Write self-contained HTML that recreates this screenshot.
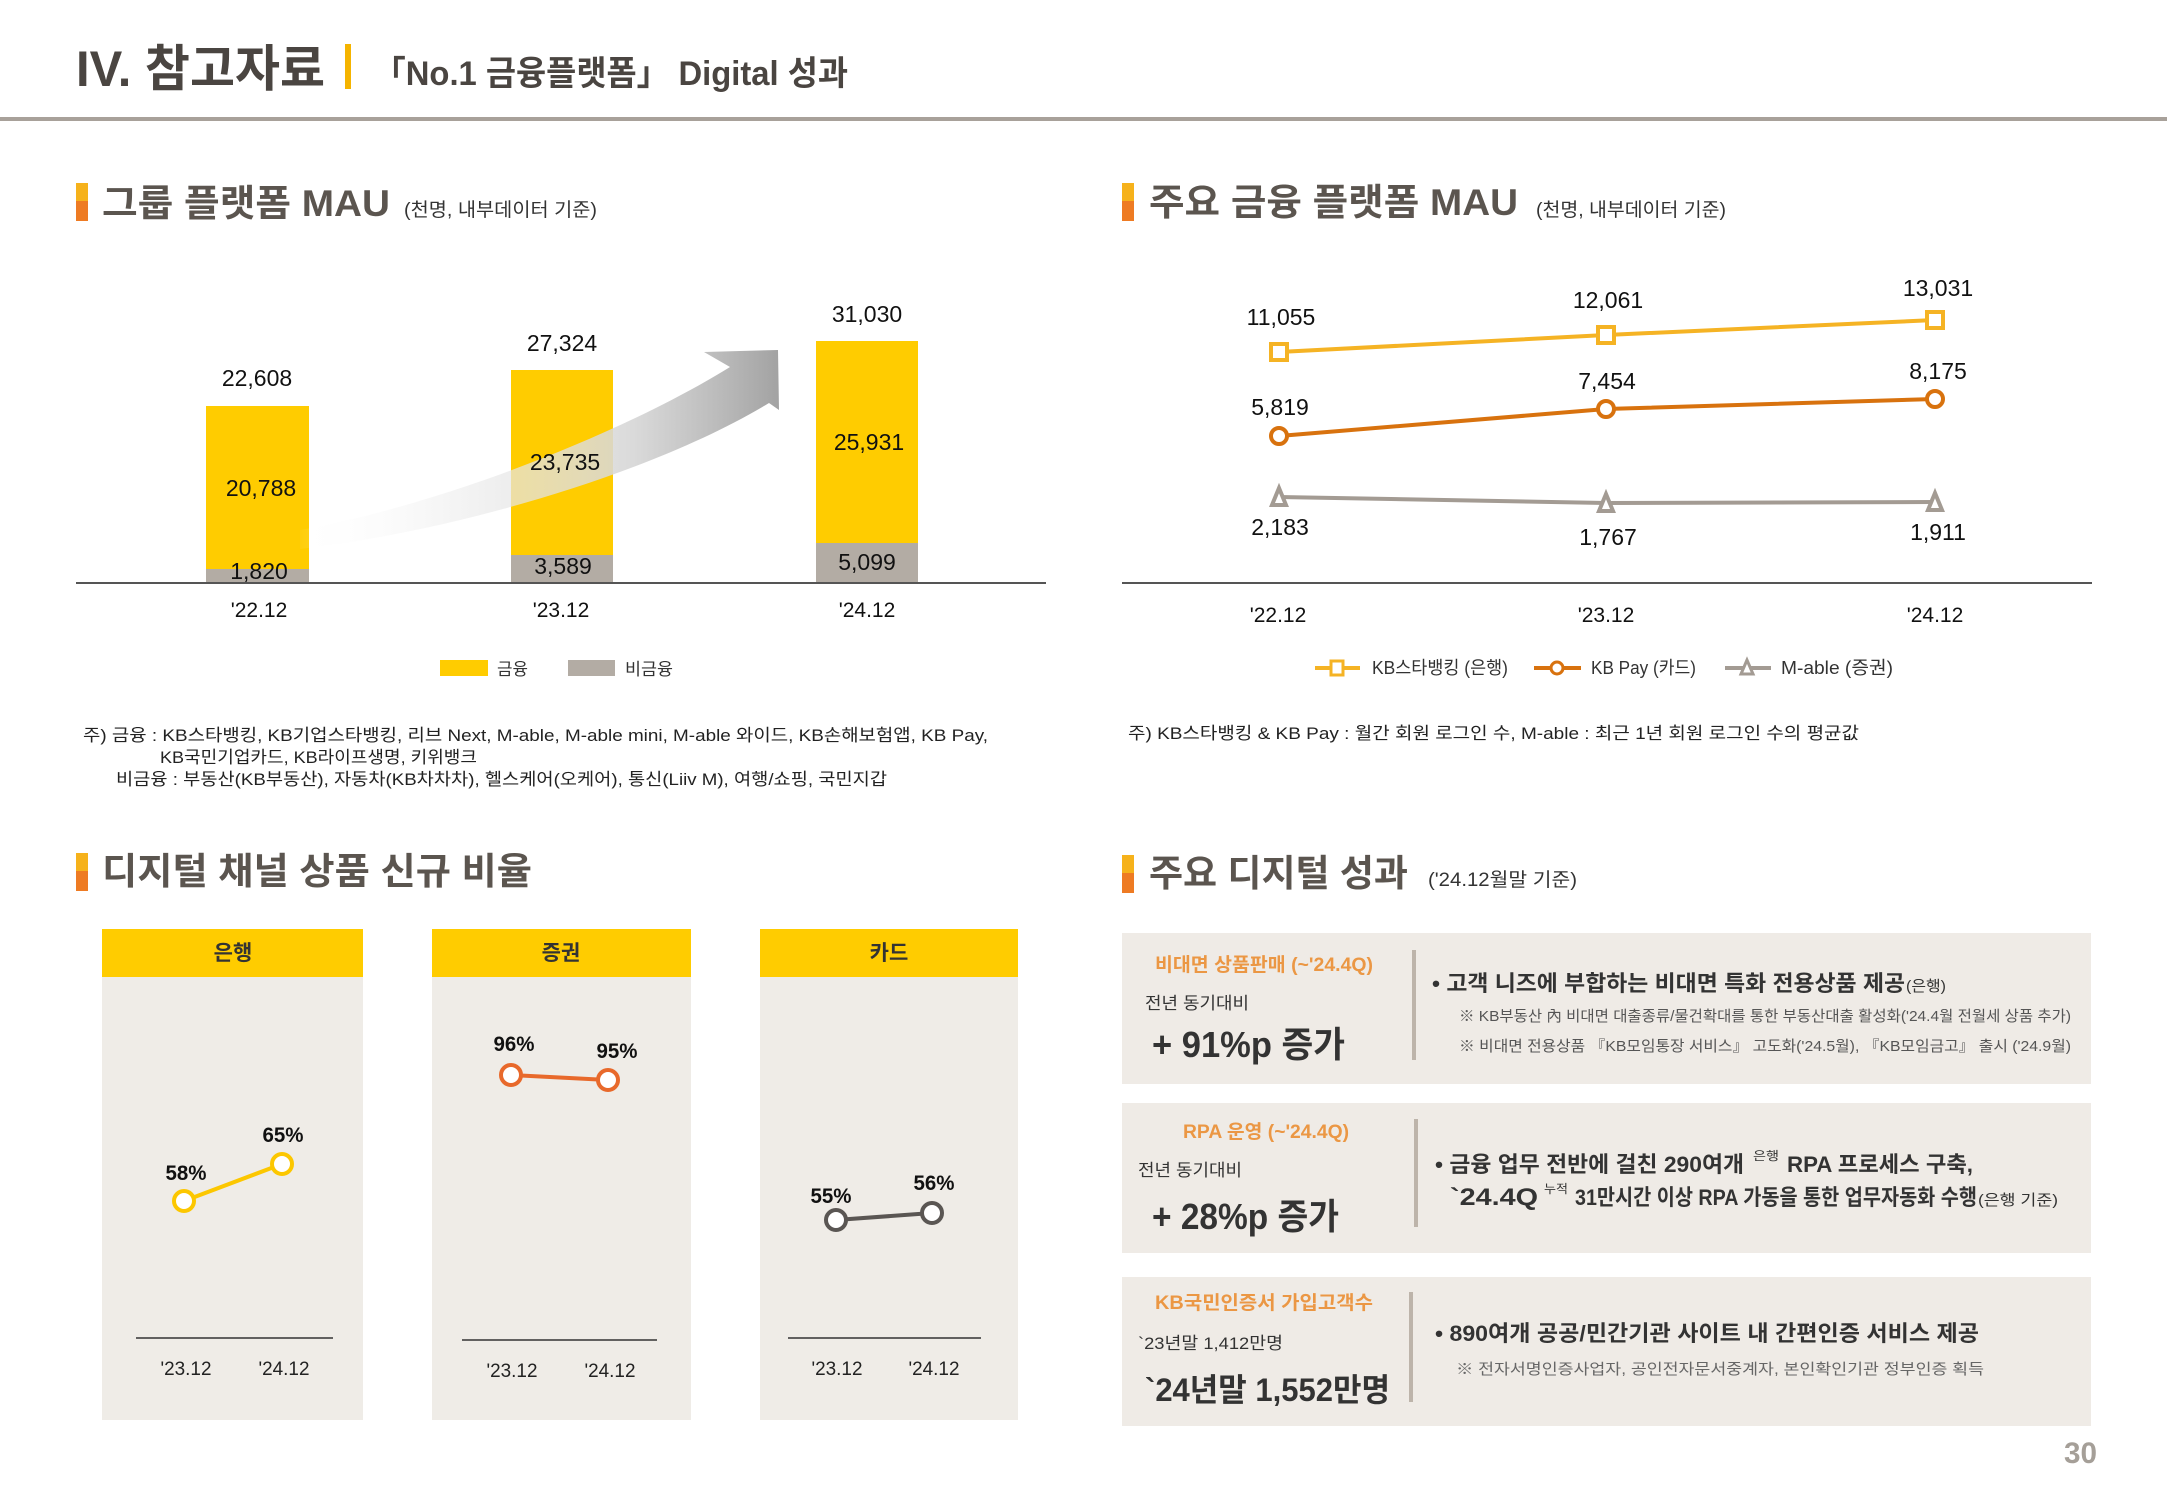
<!DOCTYPE html>
<html><head><meta charset="utf-8"><style>
html,body{margin:0;padding:0;background:#fff;}
svg{display:block;}
text{font-family:"Liberation Sans","Noto Sans CJK KR",sans-serif;}
.b{font-weight:bold;}
</style></head><body>
<svg width="2167" height="1500" viewBox="0 0 2167 1500" xmlns="http://www.w3.org/2000/svg">
<defs>
<linearGradient id="arr" x1="290" y1="0" x2="780" y2="0" gradientUnits="userSpaceOnUse">
<stop offset="0" stop-color="#ffffff" stop-opacity="0"/>
<stop offset="0.3" stop-color="#f0f0f0" stop-opacity="0.6"/>
<stop offset="0.7" stop-color="#d6d6d6" stop-opacity="0.9"/>
<stop offset="1" stop-color="#a2a2a2" stop-opacity="1"/>
</linearGradient>
</defs>
<rect x="0" y="0" width="2167" height="1500" fill="#ffffff"/>

<!-- Header -->
<text x="76" y="86" font-size="50" class="b" fill="#4a4541" textLength="249" lengthAdjust="spacingAndGlyphs">IV. 참고자료</text>
<rect x="345" y="44" width="6" height="45" fill="#f5b400"/>
<text x="373" y="85" font-size="34" class="b" fill="#4a4541" textLength="475" lengthAdjust="spacingAndGlyphs">「No.1 금융플랫폼」 Digital 성과</text>
<rect x="0" y="117" width="2167" height="4" fill="#a8a19a"/>

<!-- Section 1 title -->
<rect x="76" y="183" width="12" height="18" fill="#f6b21b"/>
<rect x="76" y="201" width="12" height="20" fill="#ee7b23"/>
<text x="102" y="216" font-size="37" class="b" fill="#5b554f" textLength="288" lengthAdjust="spacingAndGlyphs">그룹 플랫폼 MAU</text>
<text x="404" y="216" font-size="19" fill="#333" textLength="193" lengthAdjust="spacingAndGlyphs">(천명, 내부데이터 기준)</text>

<!-- Chart 1 bars -->
<rect x="206" y="406" width="103" height="177" fill="#ffcc00"/>
<rect x="206" y="569" width="103" height="14" fill="#b3aca4"/>
<rect x="511" y="370" width="102" height="213" fill="#ffcc00"/>
<rect x="511" y="555" width="102" height="28" fill="#b3aca4"/>
<rect x="816" y="341" width="102" height="242" fill="#ffcc00"/>
<rect x="816" y="543" width="102" height="40" fill="#b3aca4"/>

<!-- arrow -->
<path d="M 300,530 C 440,505 620,435 730,367 L 704,352 L 778,350 L 779,410 L 769,403 C 650,475 450,532 300,549 Z" fill="url(#arr)"/>

<line x1="76" y1="583" x2="1046" y2="583" stroke="#555" stroke-width="2"/>

<g font-size="23" fill="#111" text-anchor="middle">
<text x="257" y="386">22,608</text>
<text x="562" y="351">27,324</text>
<text x="867" y="322">31,030</text>
<text x="261" y="496">20,788</text>
<text x="565" y="470">23,735</text>
<text x="869" y="450">25,931</text>
<text x="259" y="579">1,820</text>
<text x="563" y="574">3,589</text>
<text x="867" y="570">5,099</text>
</g>
<g font-size="21" fill="#111" text-anchor="middle">
<text x="259" y="617">'22.12</text>
<text x="561" y="617">'23.12</text>
<text x="867" y="617">'24.12</text>
</g>
<rect x="440" y="660" width="48" height="16" fill="#ffcc00"/>
<text x="497" y="675" font-size="17" fill="#333" textLength="31" lengthAdjust="spacingAndGlyphs">금융</text>
<rect x="568" y="660" width="47" height="16" fill="#b3aca4"/>
<text x="625" y="675" font-size="17" fill="#333" textLength="48" lengthAdjust="spacingAndGlyphs">비금융</text>

<g font-size="17" fill="#222">
<text x="83" y="741" textLength="905" lengthAdjust="spacingAndGlyphs">주) 금융 : KB스타뱅킹, KB기업스타뱅킹, 리브 Next, M-able, M-able mini, M-able 와이드, KB손해보험앱, KB Pay,</text>
<text x="160" y="763" textLength="317" lengthAdjust="spacingAndGlyphs">KB국민기업카드, KB라이프생명, 키위뱅크</text>
<text x="116" y="785" textLength="771" lengthAdjust="spacingAndGlyphs">비금융 : 부동산(KB부동산), 자동차(KB차차차), 헬스케어(오케어), 통신(Liiv M), 여행/쇼핑, 국민지갑</text>
</g>

<!-- Section 2 title -->
<rect x="1122" y="183" width="12" height="18" fill="#f6b21b"/>
<rect x="1122" y="201" width="12" height="20" fill="#ee7b23"/>
<text x="1149" y="215" font-size="37" class="b" fill="#5b554f" textLength="369" lengthAdjust="spacingAndGlyphs">주요 금융 플랫폼 MAU</text>
<text x="1536" y="216" font-size="19" fill="#333" textLength="190" lengthAdjust="spacingAndGlyphs">(천명, 내부데이터 기준)</text>

<!-- Chart 2 -->
<polyline points="1279,352 1606,335 1935,320" fill="none" stroke="#f5b324" stroke-width="4"/>
<polyline points="1279,436 1606,409 1935,399" fill="none" stroke="#d8720e" stroke-width="4"/>
<polyline points="1279,497 1606,503 1935,502" fill="none" stroke="#a39b93" stroke-width="4"/>
<g fill="#fff" stroke="#f5b324" stroke-width="4">
<rect x="1271" y="344" width="16" height="16"/>
<rect x="1598" y="327" width="16" height="16"/>
<rect x="1927" y="312" width="16" height="16"/>
</g>
<g fill="#fff" stroke="#d8720e" stroke-width="4">
<circle cx="1279" cy="436" r="8"/>
<circle cx="1606" cy="409" r="8"/>
<circle cx="1935" cy="399" r="8"/>
</g>
<g fill="#fff" stroke="#a39b93" stroke-width="4" stroke-linejoin="miter">
<polygon points="1279,488 1272,505 1286,505"/>
<polygon points="1606,494 1599,511 1613,511"/>
<polygon points="1935,493 1928,510 1942,510"/>
</g>
<g font-size="23" fill="#111" text-anchor="middle">
<text x="1281" y="325">11,055</text>
<text x="1608" y="308">12,061</text>
<text x="1938" y="296">13,031</text>
<text x="1280" y="415">5,819</text>
<text x="1607" y="389">7,454</text>
<text x="1938" y="379">8,175</text>
<text x="1280" y="535">2,183</text>
<text x="1608" y="545">1,767</text>
<text x="1938" y="540">1,911</text>
</g>
<line x1="1122" y1="583" x2="2092" y2="583" stroke="#555" stroke-width="2"/>
<g font-size="21" fill="#111" text-anchor="middle">
<text x="1278" y="622">'22.12</text>
<text x="1606" y="622">'23.12</text>
<text x="1935" y="622">'24.12</text>
</g>
<!-- legend 2 -->
<line x1="1315" y1="668" x2="1360" y2="668" stroke="#f5b324" stroke-width="4"/>
<rect x="1331" y="661" width="12" height="14" fill="#fff" stroke="#f5b324" stroke-width="3"/>
<text x="1372" y="674" font-size="18" fill="#333" textLength="136" lengthAdjust="spacingAndGlyphs">KB스타뱅킹 (은행)</text>
<line x1="1534" y1="668" x2="1581" y2="668" stroke="#d8720e" stroke-width="4"/>
<circle cx="1557" cy="668" r="6" fill="#fff" stroke="#d8720e" stroke-width="3"/>
<text x="1591" y="674" font-size="18" fill="#333" textLength="105" lengthAdjust="spacingAndGlyphs">KB Pay (카드)</text>
<line x1="1725" y1="668" x2="1771" y2="668" stroke="#a39b93" stroke-width="4"/>
<polygon points="1747,660 1741,674 1753,674" fill="#fff" stroke="#a39b93" stroke-width="3"/>
<text x="1781" y="674" font-size="18" fill="#333" textLength="112" lengthAdjust="spacingAndGlyphs">M-able (증권)</text>

<text x="1128" y="739" font-size="17" fill="#222" textLength="731" lengthAdjust="spacingAndGlyphs">주) KB스타뱅킹 &amp; KB Pay : 월간 회원 로그인 수, M-able : 최근 1년 회원 로그인 수의 평균값</text>

<!-- Section 3 title -->
<rect x="76" y="853" width="12" height="18" fill="#f6b21b"/>
<rect x="76" y="871" width="12" height="20" fill="#ee7b23"/>
<text x="102" y="884" font-size="37" class="b" fill="#5b554f" textLength="430" lengthAdjust="spacingAndGlyphs">디지털 채널 상품 신규 비율</text>

<!-- panels -->
<rect x="102" y="929" width="261" height="491" fill="#efece7"/>
<rect x="102" y="929" width="261" height="48" fill="#ffcc00"/>
<rect x="432" y="929" width="259" height="491" fill="#efece7"/>
<rect x="432" y="929" width="259" height="48" fill="#ffcc00"/>
<rect x="760" y="929" width="258" height="491" fill="#efece7"/>
<rect x="760" y="929" width="258" height="48" fill="#ffcc00"/>
<g font-size="21" class="b" fill="#333" text-anchor="middle">
<text x="233" y="960">은행</text>
<text x="561" y="960">증권</text>
<text x="889" y="960">카드</text>
</g>
<line x1="184" y1="1201" x2="282" y2="1164" stroke="#fcc700" stroke-width="4"/>
<circle cx="184" cy="1201" r="10" fill="#fff" stroke="#fcc700" stroke-width="4"/>
<circle cx="282" cy="1164" r="10" fill="#fff" stroke="#fcc700" stroke-width="4"/>
<line x1="511" y1="1075" x2="608" y2="1080" stroke="#e8692b" stroke-width="4"/>
<circle cx="511" cy="1075" r="10" fill="#fff" stroke="#e8692b" stroke-width="4"/>
<circle cx="608" cy="1080" r="10" fill="#fff" stroke="#e8692b" stroke-width="4"/>
<line x1="836" y1="1220" x2="932" y2="1213" stroke="#5a5653" stroke-width="4"/>
<circle cx="836" cy="1220" r="10" fill="#fff" stroke="#5a5653" stroke-width="4"/>
<circle cx="932" cy="1213" r="10" fill="#fff" stroke="#5a5653" stroke-width="4"/>
<g font-size="21" class="b" fill="#111" text-anchor="middle">
<text x="186" y="1180" textLength="41" lengthAdjust="spacingAndGlyphs">58%</text>
<text x="283" y="1142" textLength="41" lengthAdjust="spacingAndGlyphs">65%</text>
<text x="514" y="1051" textLength="41" lengthAdjust="spacingAndGlyphs">96%</text>
<text x="617" y="1058" textLength="41" lengthAdjust="spacingAndGlyphs">95%</text>
<text x="831" y="1203" textLength="41" lengthAdjust="spacingAndGlyphs">55%</text>
<text x="934" y="1190" textLength="41" lengthAdjust="spacingAndGlyphs">56%</text>
</g>
<line x1="136" y1="1338" x2="333" y2="1338" stroke="#333" stroke-width="1.5"/>
<line x1="462" y1="1340" x2="657" y2="1340" stroke="#333" stroke-width="1.5"/>
<line x1="788" y1="1338" x2="981" y2="1338" stroke="#333" stroke-width="1.5"/>
<g font-size="19" fill="#222" text-anchor="middle">
<text x="186" y="1375" textLength="51" lengthAdjust="spacingAndGlyphs">'23.12</text>
<text x="284" y="1375" textLength="51" lengthAdjust="spacingAndGlyphs">'24.12</text>
<text x="512" y="1377" textLength="51" lengthAdjust="spacingAndGlyphs">'23.12</text>
<text x="610" y="1377" textLength="51" lengthAdjust="spacingAndGlyphs">'24.12</text>
<text x="837" y="1375" textLength="51" lengthAdjust="spacingAndGlyphs">'23.12</text>
<text x="934" y="1375" textLength="51" lengthAdjust="spacingAndGlyphs">'24.12</text>
</g>

<!-- Section 4 title -->
<rect x="1122" y="855" width="12" height="18" fill="#f6b21b"/>
<rect x="1122" y="873" width="12" height="20" fill="#ee7b23"/>
<text x="1149" y="886" font-size="37" class="b" fill="#5b554f" textLength="259" lengthAdjust="spacingAndGlyphs">주요 디지털 성과</text>
<text x="1428" y="886" font-size="19" fill="#333" textLength="149" lengthAdjust="spacingAndGlyphs">('24.12월말 기준)</text>

<!-- Box 1 -->
<rect x="1122" y="933" width="969" height="151" fill="#efebe6"/>
<text x="1155" y="971" font-size="19" class="b" fill="#eb9744" textLength="218" lengthAdjust="spacingAndGlyphs">비대면 상품판매 (~'24.4Q)</text>
<text x="1145" y="1009" font-size="17" fill="#333" textLength="104" lengthAdjust="spacingAndGlyphs">전년 동기대비</text>
<text x="1152" y="1057" font-size="36" class="b" fill="#333" textLength="193" lengthAdjust="spacingAndGlyphs">+ 91%p 증가</text>
<rect x="1412" y="950" width="4" height="110" fill="#bdb4aa"/>
<text x="1432" y="991" font-size="22" class="b" fill="#333" textLength="473" lengthAdjust="spacingAndGlyphs">• 고객 니즈에 부합하는 비대면 특화 전용상품 제공</text>
<text x="1906" y="991" font-size="15" fill="#333" textLength="40" lengthAdjust="spacingAndGlyphs">(은행)</text>
<text x="1459" y="1021" font-size="15" fill="#555" textLength="612" lengthAdjust="spacingAndGlyphs">※ KB부동산 內 비대면 대출종류/물건확대를 통한 부동산대출 활성화('24.4월 전월세 상품 추가)</text>
<text x="1459" y="1051" font-size="15" fill="#555" textLength="612" lengthAdjust="spacingAndGlyphs">※ 비대면 전용상품 『KB모임통장 서비스』 고도화('24.5월), 『KB모임금고』 출시 ('24.9월)</text>

<!-- Box 2 -->
<rect x="1122" y="1103" width="969" height="150" fill="#efebe6"/>
<text x="1183" y="1138" font-size="19" class="b" fill="#eb9744" textLength="166" lengthAdjust="spacingAndGlyphs">RPA 운영 (~'24.4Q)</text>
<text x="1138" y="1176" font-size="17" fill="#333" textLength="104" lengthAdjust="spacingAndGlyphs">전년 동기대비</text>
<text x="1152" y="1229" font-size="36" class="b" fill="#333" textLength="187" lengthAdjust="spacingAndGlyphs">+ 28%p 증가</text>
<rect x="1414" y="1119" width="4" height="108" fill="#bdb4aa"/>
<text x="1435" y="1172" font-size="22" class="b" fill="#333" textLength="309" lengthAdjust="spacingAndGlyphs">• 금융 업무 전반에 걸친 290여개</text>
<text x="1753" y="1160" font-size="12" fill="#333" textLength="26" lengthAdjust="spacingAndGlyphs">은행</text>
<text x="1787" y="1172" font-size="22" class="b" fill="#333" textLength="186" lengthAdjust="spacingAndGlyphs">RPA 프로세스 구축,</text>
<text x="1450" y="1205" font-size="24" class="b" fill="#333" textLength="88" lengthAdjust="spacingAndGlyphs">`24.4Q</text>
<text x="1544" y="1193" font-size="12" fill="#333" textLength="24" lengthAdjust="spacingAndGlyphs">누적</text>
<text x="1575" y="1205" font-size="22" class="b" fill="#333" textLength="402" lengthAdjust="spacingAndGlyphs">31만시간 이상 RPA 가동을 통한 업무자동화 수행</text>
<text x="1978" y="1205" font-size="15" fill="#333" textLength="80" lengthAdjust="spacingAndGlyphs">(은행 기준)</text>

<!-- Box 3 -->
<rect x="1122" y="1277" width="969" height="149" fill="#efebe6"/>
<text x="1155" y="1309" font-size="19" class="b" fill="#eb9744" textLength="218" lengthAdjust="spacingAndGlyphs">KB국민인증서 가입고객수</text>
<text x="1138" y="1349" font-size="17" fill="#333" textLength="145" lengthAdjust="spacingAndGlyphs">`23년말 1,412만명</text>
<text x="1145" y="1401" font-size="32" class="b" fill="#333" textLength="245" lengthAdjust="spacingAndGlyphs">`24년말 1,552만명</text>
<rect x="1409" y="1292" width="4" height="110" fill="#bdb4aa"/>
<text x="1435" y="1341" font-size="22" class="b" fill="#333" textLength="544" lengthAdjust="spacingAndGlyphs">• 890여개 공공/민간기관 사이트 내 간편인증 서비스 제공</text>
<text x="1456" y="1374" font-size="15" fill="#666" textLength="528" lengthAdjust="spacingAndGlyphs">※ 전자서명인증사업자, 공인전자문서중계자, 본인확인기관 정부인증 획득</text>

<text x="2064" y="1463" font-size="30" class="b" fill="#a59f98" textLength="33" lengthAdjust="spacingAndGlyphs">30</text>
</svg>
</body></html>
